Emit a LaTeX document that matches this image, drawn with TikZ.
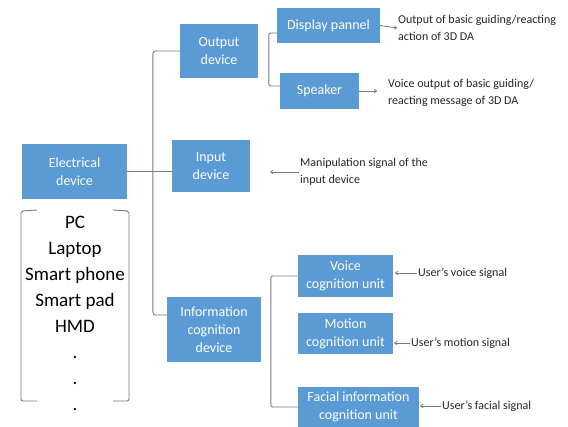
\documentclass[tikz,border=0pt]{standalone}
\usepackage{fontspec}
\setmainfont{Carlito}
\usetikzlibrary{arrows.meta,calc}
\definecolor{boxblue}{HTML}{5B9BD5}
\definecolor{linegray}{HTML}{7A7A7A}
\tikzset{
  box/.style={fill=boxblue, draw=none, text=white, align=center, inner sep=1pt,
    font=\fontsize{14}{18}\selectfont},
  note/.style={align=left, anchor=west, inner sep=1pt, text=black!85,
    font=\fontsize{12}{17}\selectfont},
  conn/.style={draw=linegray, line width=0.9pt},
  arr/.style={draw=linegray, line width=0.8pt, -{To[length=3pt,width=4pt]}},
}
\begin{document}
\begin{tikzpicture}[x=1pt,y=-1pt]
\useasboundingbox[fill=white] (0,0) rectangle (568,427);
% boxes
\node[box, minimum width=105, minimum height=55] (elec) at (74.5,171.5) {Electrical\\device};
\node[box, minimum width=78, minimum height=54] (out) at (219,51) {Output\\device};
\node[box, minimum width=78, minimum height=52] (inp) at (211,166) {Input\\device};
\node[box, minimum width=94, minimum height=65] (info) at (214,329.5) {Information\\cognition\\device};
\node[box, minimum width=103, minimum height=35] (disp) at (328.5,25.5) {Display pannel};
\node[box, minimum width=79, minimum height=36] (spk) at (319.5,91) {Speaker};
\node[box, minimum width=95, minimum height=42] (voice) at (345.5,276) {Voice\\cognition unit};
\node[box, minimum width=95, minimum height=41] (motion) at (345.5,333.5) {Motion\\cognition unit};
\node[box, minimum width=121, minimum height=40] (facial) at (358.5,407) {Facial information\\cognition unit};
% notes
\node[note] (t1) at (397,28) {Output of basic guiding/reacting\\action of 3D DA};
\node[note] (t2) at (387,93) {Voice output of basic guiding/\\reacting message of 3D DA};
\node[note] (t3) at (299,172) {Manipulation signal of the\\input device};
\node[note] (t4) at (417,273) {User’s voice signal};
\node[note] (t5) at (410,343) {User’s motion signal};
\node[note] (t6) at (441,406) {User’s facial signal};
% list
\node[align=center, inner sep=0pt, font=\fontsize{19}{26}\selectfont, anchor=north] (list) at (75,216)
  {PC\\Laptop\\Smart phone\\Smart pad\\HMD\\.\\.\\.};
% brackets around list
\draw[conn, rounded corners=2pt] (37,210) -- (21,211) -- (21,401) -- (37,401);
\draw[conn, rounded corners=2pt] (113,210) -- (129,211) -- (129,401) -- (113,401);
% connectors
\draw[conn, rounded corners=3pt] (out.west) -- ($(out.west)+(-27,0)$) |- ([yshift=14.5pt]info.west);
\draw[conn] (elec.east) -- (elec.east -| inp.west);
\draw[conn, rounded corners=2pt] ([yshift=-7.5pt]disp.west) -- ++(-8,0) |- ([yshift=5pt]spk.west);
\draw[conn, rounded corners=2pt] (voice.west) -- ++(-27,0) |- (facial.west);
% arrows
\draw[arr] (disp.east) -- (t1.west);
\draw[arr, shorten >=10pt] (spk.east) -- (spk.east -| t2.west);
\draw[arr, shorten >=20pt] (t3.west) -- (t3.west -| inp.east);
\draw[arr, shorten >=2pt] (t4.west) -- (t4.west -| voice.east);
\draw[arr, shorten >=1pt] (t5.west) -- (t5.west -| motion.east);
\draw[arr, shorten >=1pt] (t6.west) -- (t6.west -| facial.east);
\end{tikzpicture}
\end{document}
